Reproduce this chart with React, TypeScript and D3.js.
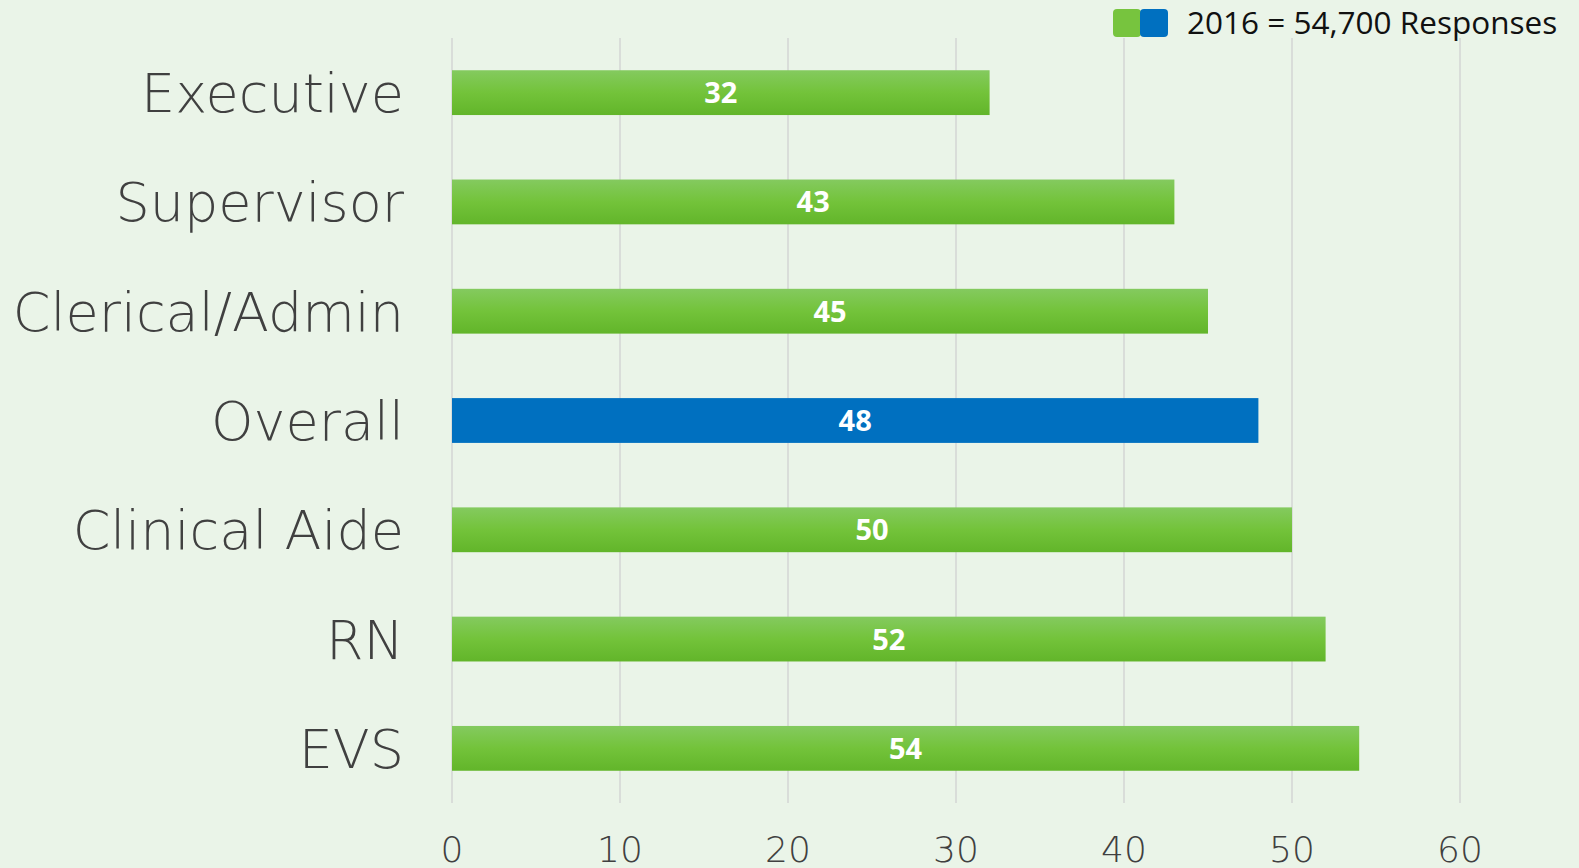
import React from "react";
import * as d3 from "d3";

const categories = ["Executive", "Supervisor", "Clerical/Admin", "Overall", "Clinical Aide", "RN", "EVS"];
const values = [32, 43, 45, 48, 50, 52, 54];
const highlight = ["Overall"];
const xTicks = [0, 10, 20, 30, 40, 50, 60];
const legendLabel = "2016 = 54,700 Responses";

const W = 1579;
const H = 868;
const margin = { left: 452, right: 119, top: 38, bottom: 65 };

export default function App() {
  const x = d3.scaleLinear().domain([0, 60]).range([margin.left, W - margin.right]);
  const y = d3
    .scaleBand<string>()
    .domain(categories)
    .range([margin.top, H - margin.bottom])
    .paddingInner(0.59)
    .paddingOuter(0.295);
  const band = (H - margin.bottom - margin.top) / categories.length;

  return (
    <svg
      width={W}
      height={H}
      style={{ position: "absolute", left: 0, top: 0, display: "block", background: "#EAF4E8" }}
    >
      <defs>
        <linearGradient id="gbar" x1="0" y1="0" x2="0" y2="1">
          <stop offset="0" stopColor="#84CA5F" />
          <stop offset="0.5" stopColor="#73C33A" />
          <stop offset="1" stopColor="#62B52A" />
        </linearGradient>
      </defs>
      <rect x={0} y={0} width={W} height={H} fill="#EAF4E8" />
      {xTicks.map((t) => (
        <line
          key={"g" + t}
          x1={x(t)}
          x2={x(t)}
          y1={margin.top}
          y2={H - margin.bottom}
          stroke="#D9DDD9"
          strokeWidth={2}
        />
      ))}
      {categories.map((c, i) => {
        const yy = y(c)!;
        const bw = y.bandwidth();
        const isHi = highlight.includes(c);
        return (
          <g key={c}>
            <rect
              x={x(0)}
              y={yy}
              width={x(values[i]) - x(0)}
              height={bw}
              fill={isHi ? "#0070C0" : "url(#gbar)"}
            />
            <text
              x={(x(0) + x(values[i])) / 2}
              y={yy + bw / 2}
              dy="0.36em"
              textAnchor="middle"
              fill="#FFFFFF"
              fontFamily="'Open Sans', sans-serif"
              fontWeight={700}
              fontSize={29}
            >
              {values[i]}
            </text>
            <text
              x={404}
              y={margin.top + band * (i + 0.5)}
              dy="0.36em"
              textAnchor="end"
              fill="#404040"
              fontFamily="'DejaVu Sans', sans-serif"
              fontWeight={300}
              fontSize={54}
            >
              {c}
            </text>
          </g>
        );
      })}
      {xTicks.map((t) => (
        <text
          key={"t" + t}
          x={x(t)}
          y={862}
          textAnchor="middle"
          fill="#404040"
          fontFamily="'DejaVu Sans', sans-serif"
          fontWeight={300}
          fontSize={36}
        >
          {t}
        </text>
      ))}
      <g>
        <rect x={1113} y={9} width={28} height={28} rx={4} fill="#77C43E" />
        <rect x={1140} y={9} width={28} height={28} rx={4} fill="#0070C0" />
        <text
          x={1187}
          y={34}
          fill="#111111"
          fontFamily="'Open Sans', sans-serif"
          fontSize={31.5}
        >
          {legendLabel}
        </text>
      </g>
    </svg>
  );
}
